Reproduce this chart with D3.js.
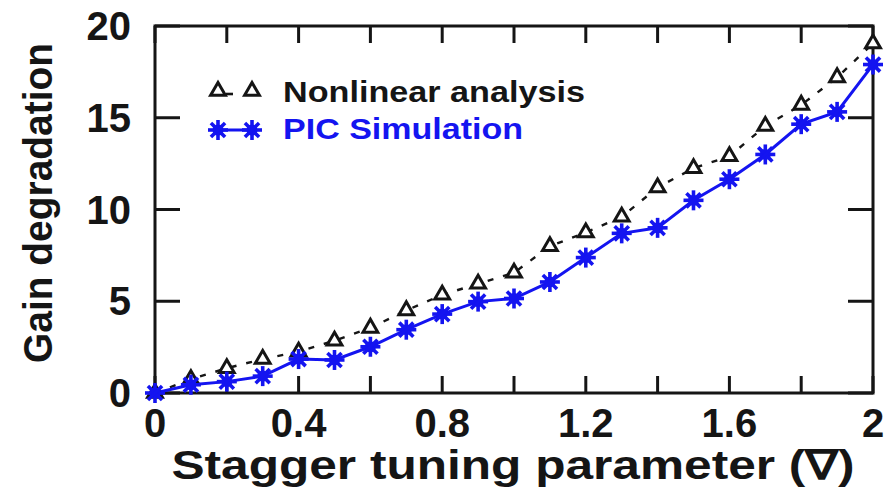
<!DOCTYPE html>
<html><head><meta charset="utf-8">
<script src="https://cdn.jsdelivr.net/npm/d3@7"></script>
<style>body{margin:0;background:#fff}svg{display:block}text{font-family:"Liberation Sans",Arial,sans-serif;font-weight:bold}</style>
</head><body><svg id="c" width="888" height="493"></svg>
<script>
const xValues = [0,0.1,0.2,0.3,0.4,0.5,0.6,0.7,0.8,0.9,1.0,1.1,1.2,1.3,1.4,1.5,1.6,1.7,1.8,1.9,2.0];
const nonlinear = [0,0.75,1.35,1.85,2.25,2.85,3.55,4.5,5.35,5.95,6.55,8.0,8.75,9.6,11.2,12.25,12.9,14.55,15.7,17.2,19.05];
const pic = [0,0.45,0.62,0.92,1.85,1.8,2.52,3.45,4.3,4.98,5.15,6.05,7.38,8.7,9.0,10.5,11.65,13.0,14.65,15.32,17.9];
const seriesNames = ["Nonlinear analysis","PIC Simulation"];
const xTickLabels = [0,0.4,0.8,1.2,1.6,2];
const xMinorTicks = [0,0.2,0.4,0.6,0.8,1.0,1.2,1.4,1.6,1.8,2.0];
const yTicks = [0,5,10,15,20];
const xTitle = "Stagger tuning parameter (\u2207)";
const yTitle = "Gain degradation";

const svg = d3.select("#c");
const L=155,R=873,T=26,B=393;
const x = d3.scaleLinear().domain([0,2]).range([L,R]);
const y = d3.scaleLinear().domain([0,20]).range([B,T]);
const blue = "#1414f0";
const ink = "#151515";

const g = svg.append("g");
xMinorTicks.forEach(v=>{
  g.append("line").attr("x1",x(v)).attr("x2",x(v)).attr("y1",B).attr("y2",B-17).attr("stroke",ink).attr("stroke-width",3);
  g.append("line").attr("x1",x(v)).attr("x2",x(v)).attr("y1",T).attr("y2",T+17).attr("stroke",ink).attr("stroke-width",3);
});
yTicks.forEach(v=>{
  g.append("line").attr("x1",L).attr("x2",L+25).attr("y1",y(v)).attr("y2",y(v)).attr("stroke",ink).attr("stroke-width",3);
  g.append("line").attr("x1",R).attr("x2",R-25).attr("y1",y(v)).attr("y2",y(v)).attr("stroke",ink).attr("stroke-width",3);
});
g.append("rect").attr("x",L).attr("y",T).attr("width",R-L).attr("height",B-T).attr("fill","none").attr("stroke",ink).attr("stroke-width",3);

xTickLabels.forEach(v=>{
  svg.append("text").attr("x",x(v)).attr("y",437).attr("text-anchor","middle").attr("font-size",40).attr("fill",ink).text(String(v));
});
yTicks.forEach(v=>{
  svg.append("text").attr("x",131).attr("y",y(v)+14).attr("text-anchor","end").attr("font-size",40).attr("fill",ink).text(String(v));
});
svg.append("text").attr("x",513).attr("y",479).attr("text-anchor","middle").attr("font-size",41).attr("fill",ink)
  .attr("textLength",683).attr("lengthAdjust","spacingAndGlyphs").text(xTitle);
svg.append("text").attr("transform","translate(52,203) rotate(-90)").attr("text-anchor","middle").attr("font-size",40).attr("fill",ink)
  .attr("textLength",320).attr("lengthAdjust","spacingAndGlyphs").text(yTitle);

const tri = d3.symbol().type(d3.symbolTriangle).size(95);
function star(sel){
  sel.append("circle").attr("r",5.5).attr("fill",blue);
  [0,45,90,135].forEach(a=>{
    sel.append("line").attr("x1",-10).attr("x2",10).attr("y1",0).attr("y2",0).attr("transform","rotate("+a+")")
      .attr("stroke",blue).attr("stroke-width",3.6);
  });
}
const pts1 = xValues.map((v,i)=>[v,nonlinear[i]]);
const pts2 = xValues.map((v,i)=>[v,pic[i]]);
const line = d3.line().x(d=>x(d[0])).y(d=>y(d[1]));

svg.append("path").attr("d",line(pts1)).attr("fill","none").attr("stroke",ink).attr("stroke-width",2.4).attr("stroke-dasharray","6,10");
svg.append("path").attr("d",line(pts2)).attr("fill","none").attr("stroke",blue).attr("stroke-width",3);
pts1.forEach(d=>{
  svg.append("path").attr("d",tri()).attr("transform",`translate(${x(d[0])},${y(d[1])})`).attr("fill","#fff").attr("stroke",ink).attr("stroke-width",3);
});
pts2.forEach(d=>{
  star(svg.append("g").attr("transform",`translate(${x(d[0])},${y(d[1])})`));
});

svg.append("line").attr("x1",226).attr("x2",244).attr("y1",94).attr("y2",94).attr("stroke",ink).attr("stroke-width",2.6).attr("stroke-dasharray","7,20");
[218,252].forEach(px=>svg.append("path").attr("d",tri()).attr("transform",`translate(${px},91)`).attr("fill","#fff").attr("stroke",ink).attr("stroke-width",3));
svg.append("line").attr("x1",218).attr("x2",252).attr("y1",130).attr("y2",130).attr("stroke",blue).attr("stroke-width",3);
[218,252].forEach(px=>star(svg.append("g").attr("transform",`translate(${px},130)`)));
svg.append("text").attr("x",283).attr("y",102).attr("font-size",30).attr("fill",ink).attr("textLength",302).attr("lengthAdjust","spacingAndGlyphs").text(seriesNames[0]);
svg.append("text").attr("x",283).attr("y",139).attr("font-size",30).attr("fill",blue).attr("textLength",240).attr("lengthAdjust","spacingAndGlyphs").text(seriesNames[1]);
</script></body></html>
